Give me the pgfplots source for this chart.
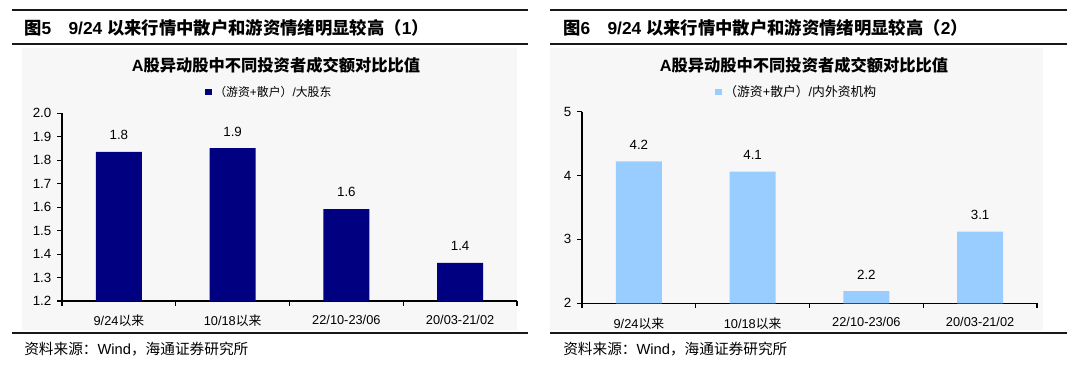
\documentclass[border=0pt]{standalone}
\usepackage{fontspec}
\setmainfont{Liberation Sans}
\newfontfamily\cjk{Noto Sans CJK SC}
\usepackage{pgfplots}
\pgfplotsset{compat=1.18}
\definecolor{navy}{RGB}{0,0,128}
\definecolor{lblue}{RGB}{153,204,255}
\definecolor{bggray}{RGB}{247,247,247}
\definecolor{rulec}{RGB}{25,25,25}

\pgfplotsset{
  mybar/.style={
    scale only axis,
    width=341.25pt,
    ybar, bar width=34.5pt,
    xmin=-0.5, xmax=3.5,
    axis x line*=bottom, axis y line*=left,
    tick align=outside, major tick length=3.5pt,
    xtick={-0.5,0.5,1.5,2.5,3.5},
    x tick label as interval,
    xticklabels={{9/24{\cjk 以来}},{10/18{\cjk 以来}},22/10-23/06,20/03-21/02},
    xticklabel style={yshift=-3.5pt, font=\fontsize{9.6}{11}\selectfont},
    yticklabel style={xshift=-1pt, font=\fontsize{10}{11}\selectfont},
    /pgf/number format/assume math mode=true,
    axis line style={line width=0.8pt, black},
    tick style={line width=0.8pt, black},
    nodes near coords,
    point meta=explicit symbolic,
    every node near coord/.append style={font=\fontsize{10}{11}\selectfont, yshift=5.5pt, black},
    legend style={draw=none, fill=none, font=\fontsize{8.9}{10}\selectfont, anchor=west},
    legend image code/.code={\fill[##1,draw=none] (0pt,-2.5pt) rectangle (5pt,2.5pt);},
    clip=false,
  }
}

\begin{document}
\begin{tikzpicture}
\useasboundingbox (0,0) rectangle (810pt,276.75pt);
% backgrounds
\fill[bggray] (16.5pt,29.25pt) rectangle (387.75pt,240.75pt);
\fill[bggray] (412.5pt,29.25pt) rectangle (782.25pt,240.75pt);
% rules
\foreach \yy in {269.25pt,243.75pt,27pt}{
  \draw[line width=1.2pt, rulec] (9pt,\yy) -- (396pt,\yy);
  \draw[line width=1.2pt, rulec] (412.5pt,\yy) -- (800.25pt,\yy);
}
% headers
\node[anchor=west, inner sep=0pt, font=\bfseries\fontsize{13}{15}\selectfont] at (18pt,256.2pt)
  {{\cjk 图}5\hspace{1em}9/24 {\cjk 以来行情中散户和游资情绪明显较高（}1{\cjk ）}};
\node[anchor=west, inner sep=0pt, font=\bfseries\fontsize{13}{15}\selectfont] at (422.25pt,256.2pt)
  {{\cjk 图}6\hspace{1em}9/24 {\cjk 以来行情中散户和游资情绪明显较高（}2{\cjk ）}};
% chart titles
\node[inner sep=0pt, font=\bfseries\fontsize{12.2}{14}\selectfont] at (207pt,228pt)
  {A{\cjk 股异动股中不同投资者成交额对比比值}};
\node[inner sep=0pt, font=\bfseries\fontsize{12.2}{14}\selectfont] at (603pt,228pt)
  {A{\cjk 股异动股中不同投资者成交额对比比值}};
% sources
\node[anchor=west, inner sep=0pt, font=\fontsize{11}{13}\selectfont] at (18pt,15pt)
  {{\cjk 资料来源：}Wind{\cjk ，海通证券研究所}};
\node[anchor=west, inner sep=0pt, font=\fontsize{11}{13}\selectfont] at (422.25pt,15pt)
  {{\cjk 资料来源：}Wind{\cjk ，海通证券研究所}};

\begin{axis}[mybar, at={(46.5pt,51pt)}, anchor=south west,
  height=140.8pt, ymin=1.2, ymax=2.0,
  ytick={1.2,1.3,1.4,1.5,1.6,1.7,1.8,1.9,2.0},
  yticklabel style={/pgf/number format/.cd, fixed, fixed zerofill, precision=1},
  legend style={at={(axis description cs:0.305,1.113)}}]
\addplot[fill=navy, draw=none] coordinates {(0,1.836) [1.8] (1,1.851) [1.9] (2,1.592) [1.6] (3,1.362) [1.4]};
\addlegendentry{{\cjk （游资}+{\cjk 散户）}/{\cjk 大股东}}
\end{axis}

\begin{axis}[mybar, at={(436.5pt,49.3pt)}, anchor=south west,
  height=143.7pt, ymin=2, ymax=5,
  ytick={2,3,4,5},
  legend style={at={(axis description cs:0.283,1.103)}, font=\fontsize{9.6}{11}\selectfont}]
\addplot[fill=lblue, draw=none] coordinates {(0,4.22) [4.2] (1,4.06) [4.1] (2,2.19) [2.2] (3,3.12) [3.1]};
\addlegendentry{{\cjk （游资}+{\cjk 散户）}/{\cjk 内外资机构}}
\end{axis}
\end{tikzpicture}
\end{document}
